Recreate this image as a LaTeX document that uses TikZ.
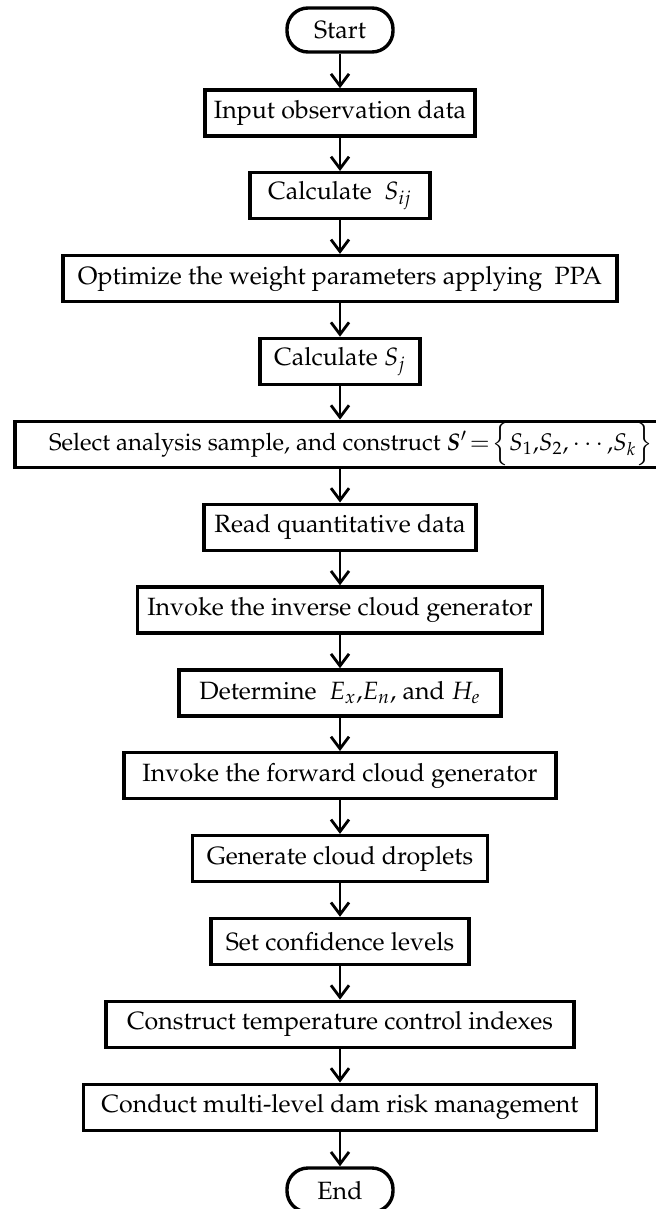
\documentclass[tikz,border=0pt]{standalone}
\usepackage[T1]{fontenc}
\usepackage{mathpazo}
\usepackage{bm}
\usetikzlibrary{arrows.meta}
\tikzset{
  procbox/.style={draw=black, line width=1.7pt, rectangle, minimum height=23pt, inner sep=0pt,
    font=\fontsize{12.5}{14}\selectfont},
  termbox/.style={draw=black, line width=1.7pt, rectangle, rounded corners=10.5pt, minimum height=22pt,
    minimum width=53pt, inner sep=0pt, font=\fontsize{12.5}{14}\selectfont},
  flow/.style={line width=1.4pt, -{Straight Barb[length=6pt,width=9pt,line width=1.4pt]}}
}
\begin{document}
\begin{tikzpicture}[x=0.5pt,y=-0.5pt]
\useasboundingbox (0,0) rectangle (656,1209);
\clip (0,0) rectangle (656,1209);
\node[termbox] (start) at (340,30) {Start};
\node[procbox, minimum width=135pt] (input) at (340,112.9) {Input observation data};
\node[procbox, minimum width=90pt] (sij) at (340,195.7) {Calculate\ \ $S_{ij}$};
\node[procbox, minimum width=277pt] (opt) at (340,278.6) {Optimize the weight parameters applying\ \ PPA};
\node[procbox, minimum width=80pt] (sj) at (340,361.4) {Calculate $S_{j}$};
\node[procbox, minimum width=325pt, font=\fontsize{12}{14}\selectfont] (sel) at (340,444.3) {\makebox[325pt][r]{Select analysis sample, and construct $\bm{S}'\!=\!\Big\{S_1{,}S_2{,}\cdots{,}S_k\Big\}$\hspace*{6pt}}};
\node[procbox, minimum width=136pt] (read) at (340,527.2) {Read quantitative data};
\node[procbox, minimum width=202.5pt] (inv) at (340,610) {Invoke the inverse cloud generator};
\node[procbox, minimum width=161pt] (det) at (340,692.9) {Determine\ \ $E_x$,$E_n$, and $H_e$};
\node[procbox, minimum width=216pt] (fwd) at (340,775.7) {Invoke the forward cloud generator};
\node[procbox, minimum width=147.5pt] (gen) at (340,858.6) {Generate cloud droplets};
\node[procbox, minimum width=129pt] (conf) at (340,941.5) {Set confidence levels};
\node[procbox, minimum width=234pt] (cons) at (340,1024.3) {Construct temperature control indexes};
\node[procbox, minimum width=256.5pt] (cond) at (340,1107.2) {Conduct multi-level dam risk management};
\node[termbox] (end) at (340,1190) {End};
\draw[flow] (start) -- (input);
\draw[flow] (input) -- (sij);
\draw[flow] (sij) -- (opt);
\draw[flow] (opt) -- (sj);
\draw[flow] (sj) -- (sel);
\draw[flow] (sel) -- (read);
\draw[flow] (read) -- (inv);
\draw[flow] (inv) -- (det);
\draw[flow] (det) -- (fwd);
\draw[flow] (fwd) -- (gen);
\draw[flow] (gen) -- (conf);
\draw[flow] (conf) -- (cons);
\draw[flow] (cons) -- (cond);
\draw[flow] (cond) -- (end);
\end{tikzpicture}
\end{document}
